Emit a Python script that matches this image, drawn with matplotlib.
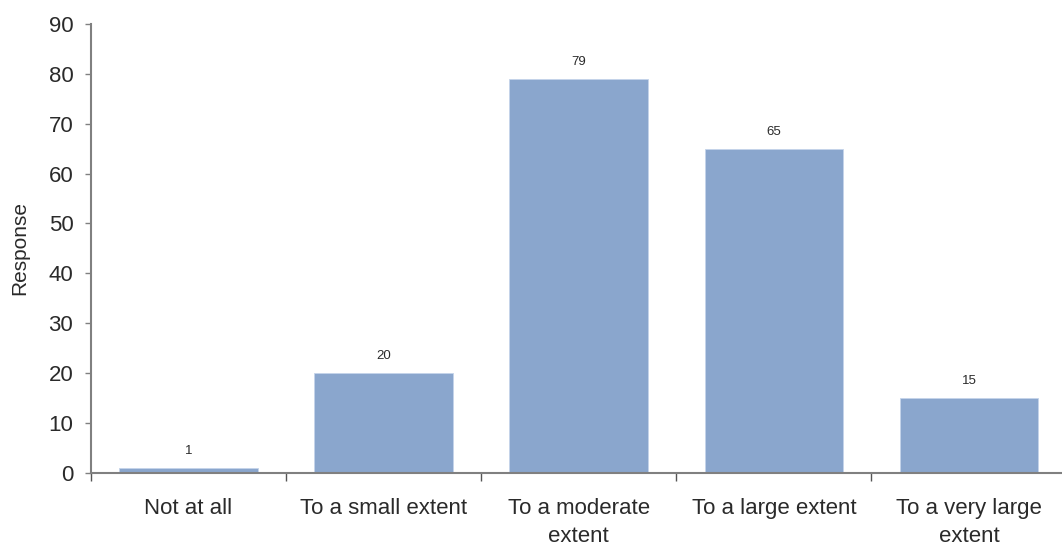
import matplotlib
matplotlib.use('Agg')
import matplotlib.pyplot as plt
import numpy as np

plt.rcParams['font.family'] = ['Liberation Sans', 'DejaVu Sans']

# survey answers
categories = ['Not at all', 'To a small extent', 'To a moderate\nextent',
              'To a large extent', 'To a very large\nextent']
responses = [1, 20, 79, 65, 15]
yticks = [0, 10, 20, 30, 40, 50, 60, 70, 80, 90]

bar_color = '#8AA6CD'
axis_color = '#808080'
text_color = '#2a2a2a'

fig = plt.figure(figsize=(10.62, 5.49), dpi=100)
ax = fig.add_axes([0.0854, 0.139, 0.919, 0.8173])

x = np.arange(len(categories))
bars = ax.bar(x, responses, width=0.71, color=bar_color, edgecolor='#C5D4EA', linewidth=0.6)

for xi, v in zip(x, responses):
    ax.annotate(str(v), (xi, v), xytext=(0, 8), textcoords='offset points',
                ha='center', va='bottom', fontsize=9.5, color=text_color)

ax.set_xlim(-0.5, len(categories) - 0.5)
ax.set_ylim(0, 90)
ax.set_yticks(yticks)
ax.tick_params(axis='y', labelsize=16, colors=text_color, length=4.5, width=1,
               color=axis_color, direction='out', pad=8)

# category labels sit between the tick marks
ax.set_xticks(x)
ax.set_xticklabels(categories, fontsize=16, color=text_color, linespacing=1.48)
ax.tick_params(axis='x', which='major', length=0, pad=18)
ax.set_xticks(np.arange(len(categories) + 1) - 0.5, minor=True)
ax.tick_params(axis='x', which='minor', length=6, width=1, color='#555555', direction='out')

ax.set_ylabel('Response', fontsize=15, color=text_color, labelpad=14)

for side in ['top', 'right']:
    ax.spines[side].set_visible(False)
for side in ['left', 'bottom']:
    ax.spines[side].set_color(axis_color)
    ax.spines[side].set_linewidth(1.5)

fig.savefig('out.png', dpi=100)
